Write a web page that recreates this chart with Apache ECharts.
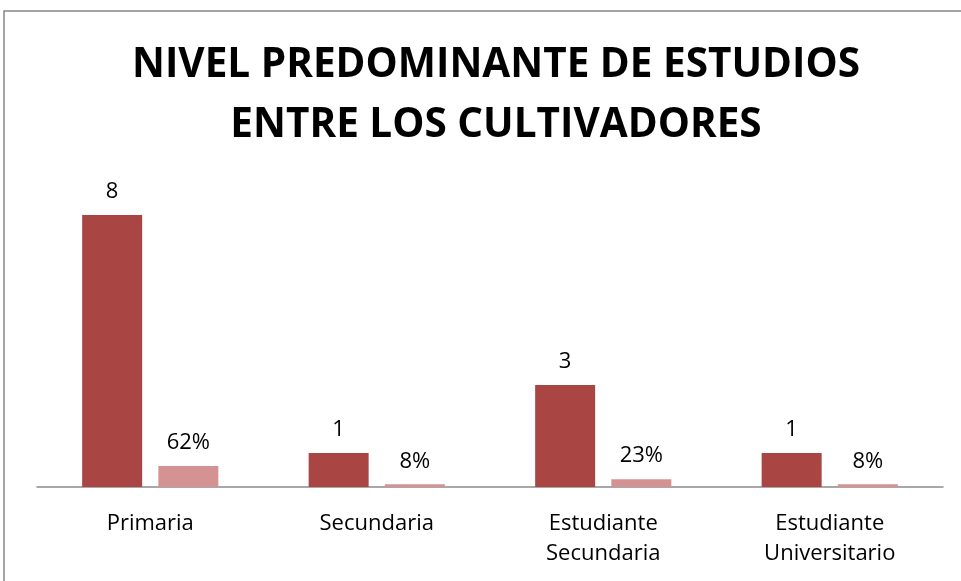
<!DOCTYPE html>
<html><head><meta charset="utf-8">
<script src="https://cdn.jsdelivr.net/npm/echarts@6/dist/echarts.min.js"></script>
<style>html,body{margin:0;padding:0;background:#fff}#c{width:961px;height:581px}</style>
</head><body><div id="c"></div>
<script>
const categories = ['Primaria', 'Secundaria', 'Estudiante\nSecundaria', 'Estudiante\nUniversitario'];
const counts = [8, 1, 3, 1];
const shares = [0.62, 0.08, 0.23, 0.08];
const shareLabels = ['62%', '8%', '23%', '8%'];
const titleText = 'NIVEL PREDOMINANTE DE ESTUDIOS\nENTRE LOS CULTIVADORES';

const chart = echarts.init(document.getElementById('c'), null, {renderer: 'canvas'});
const font = '"Open Sans", sans-serif';
chart.setOption({
  animation: false,
  backgroundColor: '#fff',
  title: {
    text: titleText, left: 491, top: 30, textAlign: 'center',
    textStyle: {fontFamily: font, fontWeight: 'bold', fontSize: 40.5, color: '#000', lineHeight: 60}
  },
  graphic: [{type: 'rect', shape: {x: 4, y: 11, width: 1000, height: 1000},
    style: {fill: 'none', stroke: '#868686', lineWidth: 1.5}, silent: true}],
  grid: {left: 37, right: 18, top: 215, bottom: 94},
  xAxis: {
    type: 'category', data: categories,
    axisLine: {lineStyle: {color: '#8c8c8c', width: 1.5}},
    axisTick: {show: false},
    axisLabel: {fontFamily: font, fontSize: 22, color: '#000', margin: 22, lineHeight: 30}
  },
  yAxis: {type: 'value', min: 0, max: 8, show: false, splitLine: {show: false}},
  series: [
    {type: 'bar', data: counts, barWidth: 60, barGap: '27%',
     itemStyle: {color: '#a94644'},
     label: {show: true, position: 'top', distance: 12, fontFamily: font, fontSize: 22, color: '#000'}},
    {type: 'bar', data: shares, barWidth: 60,
     itemStyle: {color: '#d49392'},
     label: {show: true, position: 'top', distance: 12, fontFamily: font, fontSize: 22, color: '#000',
       formatter: p => shareLabels[p.dataIndex]}}
  ]
});
</script></body></html>
